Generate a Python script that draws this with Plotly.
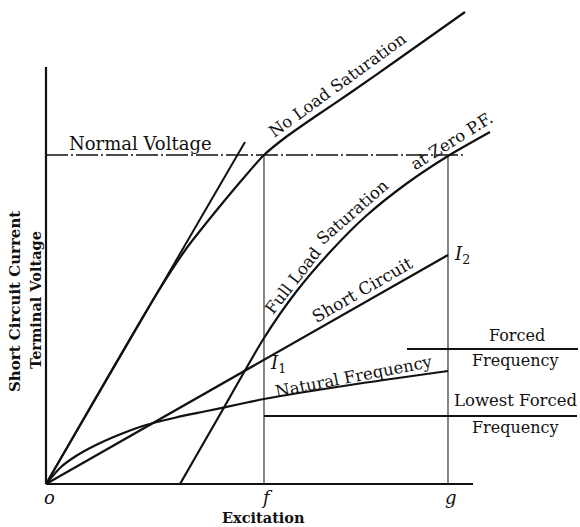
import plotly.graph_objects as go

# ---- data (excitation units on x, volts/amperes units on y) ----
nl_x = [0, 110, 140, 170, 195, 218, 240, 270, 304, 354, 419]
nl_y = [0, 189, 235, 273, 303, 329, 347, 368, 391, 426, 472]

air_x = [0, 199]
air_y = [0, 342]

fl_x = [134, 176, 218, 250, 285, 320, 360, 402, 444]
fl_y = [0, 73, 146, 192, 233, 268, 300, 328, 352]

sc_x = [0, 402]
sc_y = [0, 229]

nat_x = [0, 15, 30, 50, 75, 100, 130, 161, 194, 218, 304, 402]
nat_y = [0, 17, 28, 39, 50, 59, 66.5, 73, 80, 85, 99, 113]

normal_voltage = 329
f_exc = 218
g_exc = 402
forced_freq = 135
forced_x = [361, 532]
lowest_forced = 68
lowest_x = [218, 531]
axis_x_end = 427
axis_y_end = 417

tick_vals = [0, f_exc, g_exc]
tick_text = ["o", "f", "g"]

FONT = "DejaVu Serif"
BLACK = "#111111"

fig = go.Figure()

def line(x, y, width=2.0, dash="solid", shape="linear", color=BLACK):
    fig.add_trace(go.Scatter(x=x, y=y, mode="lines", hoverinfo="skip",
                             line=dict(color=color, width=width, dash=dash, shape=shape,
                                       smoothing=0.7),
                             showlegend=False))

# axes
line([0, 0], [0, axis_y_end], width=2.2)
line([0, axis_x_end], [0, 0], width=2.2)
# normal voltage
line([0, nl_x[-1]], [normal_voltage, normal_voltage], width=1.6, dash="22px,3px,2px,3px")
# verticals at f and g
line([f_exc, f_exc], [0, normal_voltage], width=1.2, color="#333333")
line([g_exc, g_exc], [0, normal_voltage], width=1.2, color="#333333")
# curves
line(air_x, air_y, width=2.0)
line(nl_x, nl_y, width=2.2, shape="spline")
line(fl_x, fl_y, width=2.2, shape="spline")
line(sc_x, sc_y, width=2.2)
line(nat_x, nat_y, width=2.2, shape="spline")
# frequency lines
line(forced_x, [forced_freq, forced_freq], width=1.8)
line(lowest_x, [lowest_forced, lowest_forced], width=1.8)

def label(text, x, y, size=16, angle=0, bold=False, italic=False):
    if bold:
        text = "<b>" + text + "</b>"
    if italic:
        text = "<i>" + text + "</i>"
    fig.add_annotation(x=x, y=y, text=text, showarrow=False, textangle=angle,
                       xanchor="center", yanchor="middle",
                       font=dict(family=FONT, size=size, color=BLACK))

label("Normal Voltage", 94, 341, size=18)
label("No Load Saturation", 291, 399, size=16.5, angle=-36)
label("Full Load", 247, 204, size=16.5, angle=-52)
label("Saturation", 306, 272, size=16.5, angle=-41)
label("at Zero P.F.", 405, 343, size=16.5, angle=-32)
label("Short Circuit", 316, 194, size=17, angle=-30)
label("Natural Frequency", 308, 108, size=16.5, angle=-11)
label("<i>I</i><sub>1</sub>", 232, 120, size=18)
label("<i>I</i><sub>2</sub>", 416, 229, size=18)
label("Forced", 471, 149, size=16)
label("Frequency", 469, 124, size=16)
label("Lowest Forced", 469, 84, size=16.5)
label("Frequency", 469, 57, size=16)
for v, t in zip(tick_vals, tick_text):
    label(t, v + 3, -13, size=18, italic=True)
label("Excitation", 217, -33, size=14.5, bold=True)
label("Short Circuit Current", -31, 182, size=15, angle=-90, bold=True)
label("Terminal Voltage", -11, 184, size=14.5, angle=-90, bold=True)

fig.update_layout(
    width=580, height=527, autosize=False,
    margin=dict(l=0, r=0, t=0, b=0),
    paper_bgcolor="white", plot_bgcolor="white",
    xaxis=dict(range=[-46, 534], visible=False, fixedrange=True),
    yaxis=dict(range=[-43, 484], visible=False, fixedrange=True),
    showlegend=False,
)

fig.write_html("out.html", config={"displayModeBar": False},
               post_script="document.body.style.margin='0px';document.body.style.overflow='hidden';")
